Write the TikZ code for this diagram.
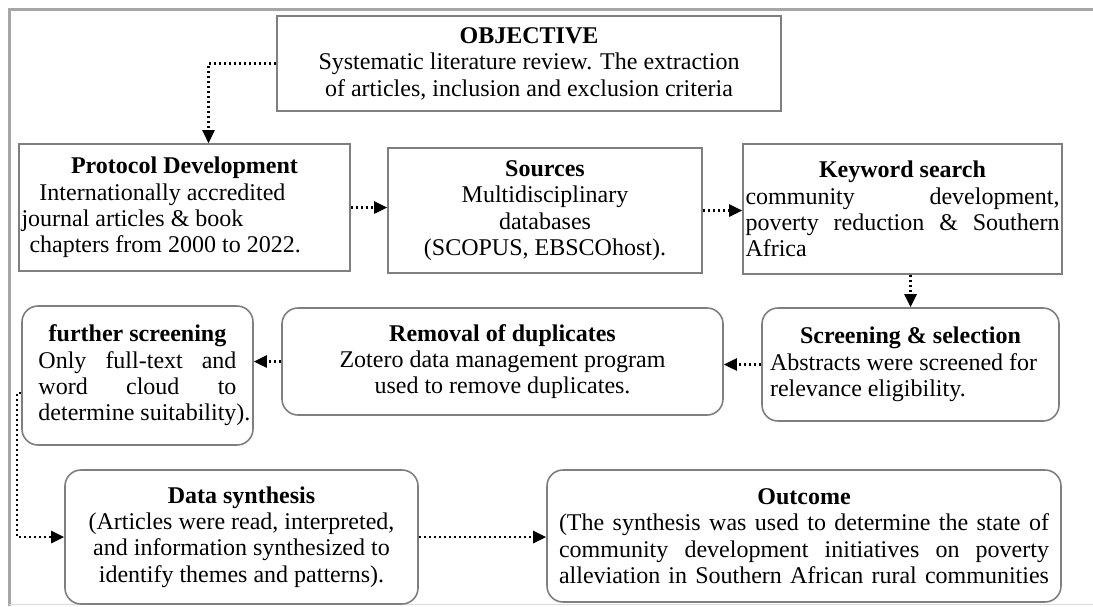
\documentclass[tikz,border=0pt]{standalone}
\usepackage{fontspec}
\setmainfont{Liberation Serif}
\usetikzlibrary{arrows.meta}
\definecolor{boxgray}{HTML}{7F7F7F}
\definecolor{framegray}{HTML}{A6A6A6}

\begin{document}
\begin{tikzpicture}[x=0.5pt,y=-0.5pt,
  font=\fontsize{12}{13.2}\selectfont,
  >={Triangle[length=6.5pt,width=6pt]},
  box/.style={draw=boxgray,line width=0.8pt,inner sep=1pt,align=center},
  rbox/.style={box,rounded corners=8pt},
  flow/.style={->,line width=1.3pt,dash pattern=on 1.3pt off 1.2pt}]
  \useasboundingbox (0,0) rectangle (1093,606);

  \draw[framegray,line width=1.5pt] (9,606) -- (9,9) -- (1093,9);
  \draw[framegray!40,line width=0.5pt] (9,604) -- (1093,604);

  \node[box,minimum width=252pt,minimum height=47.5pt] (obj) at (529,63.5)
    {\textbf{OBJECTIVE}\\Systematic literature review. The extraction\\
     of articles, inclusion and exclusion criteria};

  \node[box,minimum width=165.5pt,minimum height=63.5pt] (proto) at (184.5,207.5)
    {\textbf{Protocol Development}\\
     \makebox[163pt][l]{\hspace{9pt}Internationally accredited}\\
     \makebox[163pt][l]{journal articles \& book}\\
     \makebox[163pt][l]{\hspace{4pt}chapters from 2000 to 2022.}};
  \node[box,minimum width=157pt,minimum height=62.5pt] (src) at (545,210.5)
    {\textbf{Sources}\\Multidisciplinary\\databases\\(SCOPUS, EBSCOhost).};
  \node[box,minimum width=159.5pt,minimum height=65pt] (key) at (902.5,209)
    {\textbf{Keyword search}\\
     \makebox[157pt][s]{community development,}\\
     \makebox[157pt][s]{poverty reduction \& Southern}\\
     \makebox[157pt][l]{Africa}};

  \node[rbox,minimum width=115.5pt,minimum height=69.5pt] (further) at (137.5,375.5)
    {\textbf{further screening}\\
     \makebox[99pt][s]{Only full-text and}\\
     \makebox[99pt][s]{word cloud to}\\
     \makebox[99pt][l]{determine suitability).}};
  \node[rbox,minimum width=220.5pt,minimum height=53.5pt] (dup) at (502.5,361.5)
    {\textbf{Removal of duplicates}\\Zotero data management program\\
     used to remove duplicates.};
  \node[rbox,minimum width=148.5pt,minimum height=56.5pt] (screen) at (910.5,364.5)
    {\textbf{Screening \& selection}\\
     \makebox[140.5pt][l]{Abstracts were screened for}\\
     \makebox[140.5pt][l]{relevance eligibility.}};

  \node[rbox,minimum width=176.5pt,minimum height=67pt] (synth) at (241.5,537)
    {\textbf{Data synthesis}\\(Articles were read, interpreted,\\
     and information synthesized to\\identify themes and patterns).};
  \node[rbox,minimum width=257pt,minimum height=66pt] (out) at (804,536)
    {\textbf{Outcome}\\
     \makebox[245pt][s]{(The synthesis was used to determine the state of}\\
     \makebox[245pt][s]{community development initiatives on poverty}\\
     \makebox[245pt][s]{alleviation in Southern African rural communities}};

  \coordinate (fsturn) at (17,393);

  \draw[flow] (obj.west) -| ([xshift=12pt]proto.north);
  \draw[flow] (proto.east) -- (proto.east -| src.west);
  \draw[flow] (src.east) -- (src.east -| key.west);
  \draw[flow] (screen.north |- key.south) -- (screen.north);
  \draw[flow] (screen.west) -- (screen.west -| dup.east);
  \draw[flow] (dup.west) -- (dup.west -| further.east);
  \draw[flow] (further.west |- fsturn) -- (fsturn) |- (synth.west);
  \draw[flow] (synth.east) -- (synth.east -| out.west);
\end{tikzpicture}
\end{document}
